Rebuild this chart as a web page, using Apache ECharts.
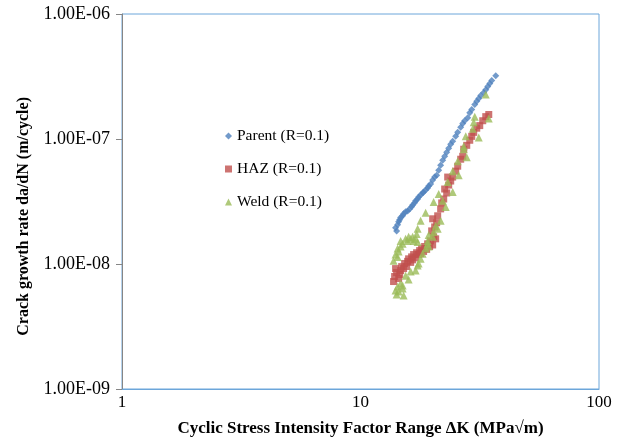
<!DOCTYPE html>
<html>
<head>
<meta charset="utf-8">
<script src="https://cdn.jsdelivr.net/npm/echarts@6/dist/echarts.min.js"></script>
<style>html,body{margin:0;padding:0;background:#fff;}#c{width:626px;height:442px;}</style>
</head>
<body>
<div id="c"></div>
<script>
// ΔK (MPa√m), da/dN (m/cycle)
var parent = [
[14.17,1.84e-8],[14.03,1.95e-8],[14.31,2.06e-8],[14.45,2.18e-8],[14.59,2.26e-8],[14.73,2.35e-8],
[15.02,2.43e-8],[15.16,2.52e-8],[15.46,2.62e-8],[15.76,2.66e-8],[16.07,2.76e-8],[16.38,2.87e-8],
[16.54,2.97e-8],[16.87,3.09e-8],[17.03,3.20e-8],[17.36,3.31e-8],[17.53,3.44e-8],[17.87,3.56e-8],
[18.22,3.70e-8],[18.39,3.77e-8],[18.75,3.91e-8],[19.12,4.05e-8],[19.31,4.20e-8],[19.68,4.36e-8],
[20.07,4.69e-8],[20.46,4.96e-8],[20.86,5.14e-8],[21.27,5.63e-8],[21.68,6.17e-8],[22.11,6.76e-8],
[22.54,7.27e-8],[22.98,7.82e-8],[23.43,8.42e-8],[23.89,9.07e-8],[24.35,9.58e-8],[25.07,1.05e-7],
[25.56,1.13e-7],[26.31,1.24e-7],[26.83,1.33e-7],[27.35,1.40e-7],[28.16,1.48e-7],[28.71,1.62e-7],
[29.27,1.72e-7],[30.13,1.89e-7],[30.72,2.00e-7],[31.32,2.11e-7],[31.93,2.23e-7],[32.87,2.36e-7],
[33.51,2.48e-7],[34.17,2.63e-7],[34.84,2.78e-7],[35.51,2.94e-7],[36.91,3.21e-7]
];
var haz = [
[13.76,7.24e-9],[13.90,7.94e-9],[14.17,8.55e-9],[14.03,9.19e-9],[14.45,7.65e-9],[14.59,8.24e-9],
[14.73,8.86e-9],[14.88,9.53e-9],[15.16,9.19e-9],[15.31,1.01e-8],[15.61,9.55e-9],[15.76,1.05e-8],
[15.91,1.10e-8],[16.23,1.03e-8],[16.38,1.14e-8],[16.54,1.08e-8],[16.70,1.19e-8],[17.03,1.12e-8],
[17.19,1.23e-8],[17.53,1.19e-8],[17.70,1.28e-8],[17.87,1.21e-8],[18.04,1.33e-8],[18.39,1.26e-8],
[18.57,1.38e-8],[18.94,1.31e-8],[19.12,1.45e-8],[19.49,1.38e-8],[19.68,1.53e-8],[20.07,1.42e-8],
[20.26,1.65e-8],[20.66,1.59e-8],[19.88,1.84e-8],[20.46,1.98e-8],[20.86,2.14e-8],[20.07,2.30e-8],
[21.07,2.43e-8],[21.68,2.76e-8],[21.90,3.08e-8],[22.33,3.31e-8],[22.98,3.70e-8],[22.54,3.98e-8],
[23.43,4.28e-8],[23.89,4.61e-8],[23.20,4.96e-8],[24.35,4.96e-8],[25.07,5.53e-8],[25.56,6.06e-8],
[26.31,6.89e-8],[26.83,7.27e-8],[27.09,8.28e-8],[27.89,8.90e-8],[28.71,9.77e-8],[29.27,1.05e-7],
[29.84,1.13e-7],[30.72,1.22e-7],[31.62,1.28e-7],[32.55,1.40e-7],[33.51,1.51e-7],[34.50,1.57e-7]
];
var weld = [
[14.03,6.14e-9],[14.31,6.60e-9],[14.45,6.03e-9],[14.73,6.98e-9],[15.02,6.37e-9],[15.02,6.73e-9],
[15.16,5.60e-9],[14.17,5.70e-9],[13.76,1.06e-8],[14.03,1.19e-8],[14.31,1.14e-8],[14.31,1.33e-8],
[14.45,1.26e-8],[14.73,1.38e-8],[14.73,1.53e-8],[15.02,1.45e-8],[15.46,1.59e-8],[15.76,1.53e-8],
[15.91,1.65e-8],[16.23,1.59e-8],[16.54,1.65e-8],[16.70,1.53e-8],[17.03,1.59e-8],[17.36,1.50e-8],
[17.19,1.74e-8],[15.46,8.06e-9],[15.91,7.51e-9],[16.23,8.70e-9],[17.03,8.86e-9],[17.36,9.74e-9],
[17.53,1.01e-8],[17.87,1.10e-8],[18.22,1.21e-8],[18.75,1.33e-8],[19.12,1.45e-8],[19.31,1.38e-8],
[19.12,1.53e-8],[19.31,1.71e-8],[20.07,1.65e-8],[20.26,1.80e-8],[20.66,2.02e-8],[21.07,1.91e-8],
[17.36,1.91e-8],[17.87,2.22e-8],[18.75,2.57e-8],[21.68,2.22e-8],[20.26,3.14e-8],[21.27,3.63e-8],
[22.11,3.20e-8],[22.76,2.86e-8],[23.20,4.52e-8],[24.35,3.77e-8],[24.35,5.53e-8],[25.81,5.14e-8],
[25.56,6.64e-8],[27.89,7.13e-8],[27.09,8.28e-8],[27.09,8.74e-8],[27.62,1.05e-7],[31.32,1.03e-7],
[29.56,1.21e-7],[29.84,1.36e-7],[30.13,1.51e-7],[34.50,1.46e-7],[33.51,2.27e-7]
];
var seriesNames = ['Parent (R=0.1)', 'HAZ (R=0.1)', 'Weld (R=0.1)'];
var xTickLabels = {'0': '1', '1': '10', '2': '100'};
var yTickLabels = {'-9': '1.00E-09', '-8': '1.00E-08', '-7': '1.00E-07', '-6': '1.00E-06'};
var xTitle = 'Cyclic Stress Intensity Factor Range ΔK (MPa√m)';
var yTitle = 'Crack growth rate da/dN (m/cycle)';

var FONT = 'Liberation Serif';
var chart = echarts.init(document.getElementById('c'), null, {renderer: 'canvas'});
chart.setOption({
  animation: false,
  backgroundColor: '#fff',
  grid: {left: 122, right: 27, top: 14, bottom: 50, show: true, borderColor: '#6CA6DA', borderWidth: 1, backgroundColor: 'transparent'},
  legend: {
    orient: 'vertical', left: 220, top: 123, itemGap: 17, itemWidth: 7, itemHeight: 7,
    textStyle: {fontFamily: FONT, fontSize: 15.5, color: '#000'},
    data: [{name: seriesNames[0], icon: 'diamond'}, {name: seriesNames[1], icon: 'rect'}, {name: seriesNames[2], icon: 'triangle'}]
  },
  graphic: [{
    type: 'text', left: 16, top: 97, rotation: Math.PI / 2,
    style: {text: yTitle, font: 'bold 16px "Liberation Serif"', fill: '#000'}
  }],
  xAxis: {
    type: 'log', logBase: 10, min: 1, max: 100,
    name: xTitle, nameLocation: 'middle', nameGap: 31,
    nameTextStyle: {fontFamily: FONT, fontSize: 17, fontWeight: 'bold', color: '#000'},
    axisLine: {lineStyle: {color: '#6CA6DA'}}, axisTick: {show: false},
    axisLabel: {fontFamily: FONT, fontSize: 17, color: '#000', margin: 5,
      formatter: function (v) { var e = Math.round(Math.log10(v)); return xTickLabels[String(e)] || ''; }},
    splitLine: {show: false}
  },
  yAxis: {
    type: 'log', logBase: 10, min: 1e-9, max: 1e-6,
    axisLine: {lineStyle: {color: '#868686'}}, axisTick: {show: true, inside: false, length: 6, lineStyle: {color: '#868686'}},
    axisLabel: {fontFamily: FONT, fontSize: 18, color: '#000', margin: 12,
      formatter: function (v) { var e = Math.round(Math.log10(v)); return yTickLabels[String(e)] || ''; }},
    splitLine: {show: false}
  },
  series: [
    {name: seriesNames[0], type: 'scatter', symbol: 'diamond', symbolSize: 7, data: parent, itemStyle: {color: '#4F81BD'}, z: 3},
    {name: seriesNames[1], type: 'scatter', symbol: 'rect', symbolSize: 7, data: haz, itemStyle: {color: '#C0504D'}, z: 2},
    {name: seriesNames[2], type: 'scatter', symbol: 'triangle', symbolSize: 8, data: weld, itemStyle: {color: '#9BBB59'}, z: 4}
  ]
});
</script>
</body>
</html>
